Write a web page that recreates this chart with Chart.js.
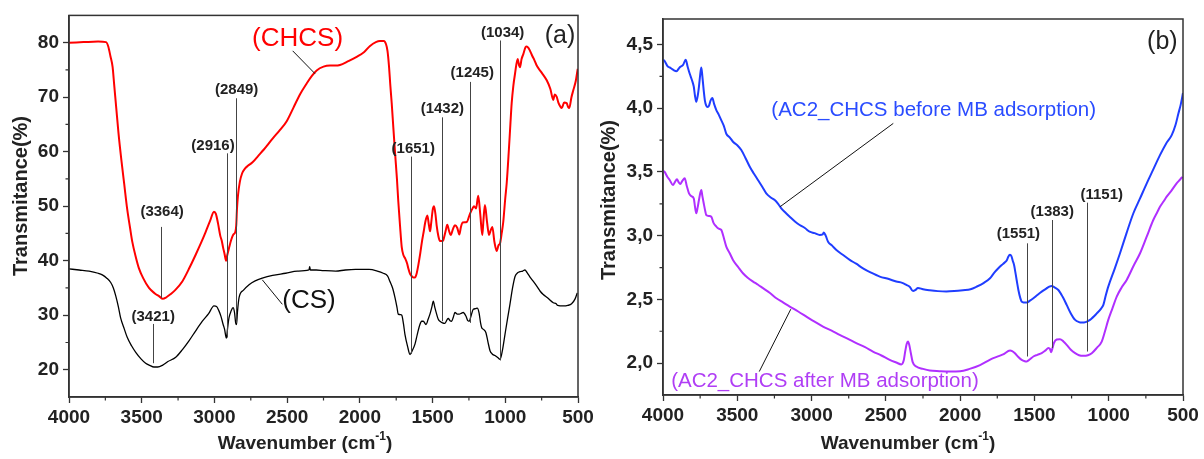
<!DOCTYPE html>
<html><head><meta charset="utf-8">
<script src="https://cdn.jsdelivr.net/npm/chart.js@4.4.1/dist/chart.umd.min.js"></script>
<style>
body{margin:0;background:#fff;width:1204px;height:459px;overflow:hidden;position:relative}
#c1{position:absolute;left:0;top:0}
#c2{position:absolute;left:600px;top:0}
</style>
</head><body>
<canvas id="c1" width="600" height="459"></canvas>
<canvas id="c2" width="604" height="459"></canvas>
<script>
// ---------- Panel (a) data ----------
const chcsWn = [4000,3900,3800,3745,3730,3715,3700,3690,3675,3660,3640,3620,3600,3580,3565,3540,3519,3490,3450,3410,3381,3355,3330,3300,3270,3221,3170,3129,3090,3060,3030,3003,2990,2975,2960,2950,2941,2930,2920,2912,2900,2885,2870,2856,2850,2845,2838,2825,2810,2790,2770,2740,2700,2660,2641,2600,2549,2503,2458,2412,2366,2330,2297,2250,2205,2170,2137,2080,2022,1970,1930,1890,1862,1835,1820,1810,1800,1790,1781,1770,1758,1745,1736,1724,1712,1700,1690,1675,1667,1655,1644,1630,1621,1610,1598,1585,1573,1560,1550,1536,1525,1517,1510,1498,1490,1480,1472,1460,1449,1435,1426,1410,1399,1387,1375,1360,1346,1330,1316,1305,1293,1265,1243,1225,1215,1201,1186,1172,1158,1150,1140,1125,1112,1100,1089,1075,1059,1047,1036,1025,1014,1000,990,975,965,956,945,933,915,905,899,888,876,860,853,840,830,815,800,784,750,715,690,670,660,647,635,620,612,595,578,568,560,545,532,515,502];
const chcsT = [80.0,80.1,80.2,80.1,79.3,77.5,75.5,72.5,68.0,63.5,58.5,54.0,49.5,46.0,43.5,40.6,38.6,36.8,35.0,34.0,33.5,33.0,33.3,33.9,34.6,36.2,38.8,41.1,43.4,45.3,47.3,49.0,48.6,46.8,44.6,43.7,42.5,41.2,40.0,41.0,42.3,43.8,44.8,45.3,46.5,49.5,52.0,54.5,56.0,56.9,57.4,58.0,59.2,60.4,61.0,62.4,64.0,65.6,68.0,70.5,72.5,73.9,74.9,75.6,75.8,75.8,75.9,76.6,77.4,78.3,79.4,80.1,80.3,80.3,79.7,78.5,75.8,72.0,68.9,64.5,59.8,55.0,51.0,46.5,42.5,41.0,40.5,39.5,38.6,37.6,37.2,36.9,36.9,37.6,39.2,41.3,43.5,45.5,47.1,48.3,46.5,45.4,46.8,49.5,50.0,48.5,46.5,44.5,43.6,43.6,43.8,45.5,46.6,45.5,44.7,45.8,46.5,46.0,44.8,46.2,47.0,47.1,48.6,49.6,50.0,49.6,51.9,48.5,44.7,47.5,50.2,47.0,44.7,45.6,46.2,43.5,41.8,42.8,43.2,45.0,47.1,51.5,54.3,60.5,65.0,68.9,72.0,74.3,77.0,75.8,75.5,77.0,77.9,79.2,79.3,79.0,78.5,77.6,76.8,75.8,74.5,73.1,71.5,69.5,70.5,70.1,69.0,68.2,68.0,69.0,68.9,68.2,68.0,70.0,71.3,73.0,75.2];

const csWn = [4000,3930,3862,3800,3771,3740,3713,3695,3679,3660,3645,3620,3599,3570,3541,3505,3473,3445,3416,3390,3358,3320,3266,3220,3175,3130,3083,3040,3003,2985,2969,2955,2941,2930,2918,2910,2900,2885,2872,2862,2854,2848,2842,2831,2800,2762,2720,2671,2600,2510,2430,2350,2345,2340,2300,2250,2166,2100,2030,1937,1880,1839,1810,1793,1775,1758,1745,1736,1720,1712,1700,1690,1672,1655,1640,1621,1605,1587,1575,1564,1545,1530,1518,1505,1495,1485,1472,1460,1449,1432,1415,1400,1392,1380,1369,1358,1346,1330,1316,1300,1289,1270,1258,1248,1235,1220,1205,1193,1180,1170,1162,1150,1133,1120,1105,1090,1071,1050,1036,1020,1002,985,968,950,933,915,899,880,865,850,830,807,780,760,739,710,670,650,640,601,570,544,520,505];
const csT = [38.5,38.3,38.1,37.7,37.4,36.8,36.0,35.0,33.6,31.5,29.5,27.5,25.9,24.4,23.2,22.0,21.2,20.8,20.5,20.5,20.8,21.5,22.3,23.7,25.3,27.1,28.9,30.3,31.7,31.6,30.8,29.8,28.4,27.4,25.8,27.5,29.5,30.8,31.4,30.5,28.6,28.3,30.5,33.2,34.6,35.6,36.3,36.8,37.3,37.7,38.1,38.3,38.9,38.3,38.3,38.2,38.1,38.3,38.4,38.4,38.1,37.7,37.2,36.2,35.0,33.2,31.5,30.2,30.1,30.0,28.4,26.5,24.3,22.8,23.5,24.7,26.5,28.3,28.9,28.9,28.3,29.3,30.2,31.5,32.6,31.5,30.2,29.2,28.9,28.6,28.5,29.2,29.4,29.0,28.9,29.6,30.5,30.2,30.2,30.4,30.5,29.8,29.0,28.9,29.9,31.1,31.2,31.3,30.4,28.6,27.7,27.4,26.8,25.2,23.5,22.9,22.6,22.2,21.9,23.5,26.5,29.3,32.0,35.0,37.1,37.8,38.0,38.1,38.3,37.8,37.0,36.2,35.2,34.4,33.8,33.2,32.3,32.1,31.8,31.7,31.8,32.1,33.0,34.1];

const xTicks = [4000,3500,3000,2500,2000,1500,1000,500];
const xMinor = [3750,3250,2750,2250,1750,1250,750];
const yTicksA = [20,30,40,50,60,70,80];
const yMinorA = [25,35,45,55,65,75];

// peak annotations (a)
const peaksA = ["(3364)","(3421)","(2916)","(2849)","(1651)","(1432)","(1245)","(1034)"];
const peakLineWnA = [3364,3421,2916,2849,1651,1432,1245,1034];
const peakLineFromA = [33.2,21.2,25.9,28.6,22.9,28.9,28.6,21.7];
const peakLineToA = [46.2,28.4,59.7,69.8,59.1,66.3,72.8,80.4];
const peakLabelWnA = [3360,3421,3010,2847,1633,1433,1227,1018];
const peakLabelTA = [48.9,29.7,61.1,71.4,60.6,67.9,74.4,81.8];

// ---------- Panel (b) data ----------
const beforeWn = [4000,3989,3970,3955,3930,3910,3888,3865,3847,3835,3820,3805,3793,3785,3776,3766,3758,3748,3742,3735,3726,3718,3709,3700,3690,3680,3668,3655,3641,3625,3608,3590,3574,3550,3529,3500,3473,3445,3416,3390,3361,3330,3305,3275,3248,3225,3204,3175,3147,3110,3080,3045,3013,2980,2945,2925,2918,2905,2889,2860,2833,2790,2743,2700,2654,2600,2541,2480,2430,2390,2362,2340,2317,2300,2284,2250,2205,2150,2093,2040,1981,1930,1889,1840,1799,1770,1743,1720,1700,1685,1676,1665,1655,1645,1637,1625,1615,1608,1595,1586,1570,1552,1530,1507,1480,1451,1420,1400,1384,1365,1339,1310,1283,1255,1226,1200,1182,1155,1126,1080,1050,1036,1020,1003,960,924,880,834,790,744,700,655,615,576,550,531,515,500];
const beforeT = [4.38,4.37,4.33,4.32,4.30,4.29,4.32,4.34,4.38,4.33,4.27,4.22,4.17,4.10,4.05,4.10,4.17,4.28,4.32,4.25,4.14,4.06,4.02,4.01,4.02,4.06,4.08,4.03,3.985,3.95,3.907,3.86,3.80,3.77,3.737,3.71,3.672,3.61,3.541,3.49,3.437,3.38,3.332,3.30,3.28,3.25,3.215,3.18,3.149,3.11,3.084,3.06,3.031,3.02,3.006,3.01,3.025,3.00,2.953,2.92,2.888,2.85,2.81,2.78,2.744,2.71,2.679,2.66,2.64,2.63,2.614,2.60,2.565,2.575,2.59,2.58,2.572,2.565,2.562,2.565,2.572,2.58,2.60,2.63,2.666,2.71,2.744,2.77,2.79,2.81,2.835,2.85,2.84,2.80,2.77,2.69,2.62,2.574,2.51,2.483,2.476,2.475,2.49,2.509,2.535,2.561,2.585,2.60,2.606,2.595,2.574,2.52,2.457,2.39,2.339,2.322,2.318,2.322,2.339,2.39,2.43,2.457,2.53,2.60,2.74,2.862,3.02,3.176,3.29,3.411,3.52,3.632,3.72,3.789,3.87,3.959,4.03,4.12];

const afterWn = [4000,3989,3970,3955,3933,3920,3906,3895,3884,3870,3854,3840,3825,3810,3793,3785,3776,3767,3758,3748,3742,3735,3726,3715,3709,3690,3675,3660,3641,3625,3608,3590,3574,3550,3529,3495,3462,3430,3394,3360,3327,3280,3237,3190,3147,3090,3035,2980,2923,2865,2811,2755,2699,2640,2587,2530,2474,2430,2396,2380,2370,2360,2351,2342,2332,2320,2295,2250,2205,2140,2070,2000,1936,1866,1801,1777,1740,1711,1664,1650,1631,1610,1586,1565,1552,1530,1507,1480,1451,1425,1406,1395,1387,1378,1368,1350,1328,1305,1283,1255,1226,1200,1171,1140,1114,1080,1047,1025,1003,975,946,915,879,830,789,745,700,675,655,630,610,580,543,520,504];
const afterT = [3.51,3.50,3.46,3.437,3.397,3.42,3.442,3.42,3.405,3.43,3.45,3.39,3.332,3.31,3.293,3.23,3.176,3.22,3.28,3.34,3.358,3.31,3.254,3.19,3.162,3.155,3.149,3.10,3.071,3.055,3.045,2.98,2.914,2.86,2.81,2.755,2.705,2.67,2.64,2.615,2.588,2.55,2.509,2.475,2.444,2.405,2.365,2.325,2.287,2.255,2.222,2.19,2.157,2.125,2.091,2.06,2.026,2.005,1.99,2.02,2.09,2.15,2.169,2.14,2.08,2.01,1.973,1.955,1.942,1.937,1.934,1.936,1.955,1.985,2.026,2.039,2.055,2.068,2.099,2.095,2.078,2.05,2.026,2.015,2.013,2.03,2.052,2.065,2.078,2.10,2.118,2.11,2.085,2.12,2.16,2.185,2.188,2.17,2.143,2.105,2.078,2.062,2.057,2.062,2.078,2.12,2.169,2.25,2.339,2.43,2.522,2.59,2.653,2.77,2.862,2.99,3.123,3.18,3.227,3.27,3.306,3.35,3.411,3.44,3.462];

const yTicksB = [2.0,2.5,3.0,3.5,4.0,4.5];
const yMinorB = [2.25,2.75,3.25,3.75,4.25];

const peaksB = ["(1551)","(1383)","(1151)"];
const peakLineWnB = [1551,1383,1146];
const peakLineFromB = [2.052,2.118,2.091];
const peakLineToB = [2.940,3.123,3.259];
const peakLabelWnB = [1608,1380,1047];
const peakLabelTB = [3.013,3.188,3.319];

// ---------- helpers ----------
const FONT = '"Liberation Sans", Arial, sans-serif';
const pts = (xs, ys) => xs.map((x, i) => ({x: x, y: ys[i]}));

const decorPlugin = {
  id: 'decor',
  afterDraw(chart) {
    const o = chart.options.plugins.decor;
    const ctx = chart.ctx, xs = chart.scales.x, ys = chart.scales.y, a = chart.chartArea;
    const X = v => xs.getPixelForValue(v), Y = v => ys.getPixelForValue(v);
    ctx.save();
    // frame
    ctx.strokeStyle = '#333'; ctx.lineWidth = 1.5;
    ctx.strokeRect(a.left, a.top, a.right - a.left, a.bottom - a.top);
    // minor ticks
    ctx.lineWidth = 1.2;
    ctx.beginPath();
    o.xMinor.forEach(v => { const p = X(v); ctx.moveTo(p, a.bottom); ctx.lineTo(p, a.bottom + 3.5); });
    o.yMinor.forEach(v => { const p = Y(v); ctx.moveTo(a.left, p); ctx.lineTo(a.left - 3.5, p); });
    ctx.stroke();
    // peak lines and labels
    ctx.strokeStyle = '#444'; ctx.lineWidth = 1;
    o.peakWn.forEach((w, i) => {
      ctx.beginPath();
      ctx.moveTo(Math.round(X(w)) + 0.5, Y(o.peakFrom[i]));
      ctx.lineTo(Math.round(X(w)) + 0.5, Y(o.peakTo[i]));
      ctx.stroke();
    });
    ctx.fillStyle = '#222';
    ctx.font = 'bold 15px ' + FONT;
    ctx.textAlign = 'center'; ctx.textBaseline = 'middle';
    o.peakText.forEach((t, i) => ctx.fillText(t, X(o.peakLabelWn[i]), Y(o.peakLabelT[i])));
    // leader lines
    ctx.strokeStyle = '#111'; ctx.lineWidth = 1;
    o.leaders.forEach(l => {
      ctx.beginPath(); ctx.moveTo(X(l[0]), Y(l[1])); ctx.lineTo(X(l[2]), Y(l[3])); ctx.stroke();
    });
    // free texts
    o.texts.forEach(t => {
      ctx.fillStyle = t.color; ctx.font = t.font;
      ctx.textAlign = 'center'; ctx.textBaseline = 'middle';
      ctx.fillText(t.text, X(t.x), Y(t.y));
    });
    // axis titles
    ctx.fillStyle = '#222';
    ctx.font = 'bold 19px ' + FONT;
    const main = 'Wavenumber (cm', sup = '-1', tail = ')';
    const wMain = ctx.measureText(main).width;
    const wTail = ctx.measureText(tail).width;
    ctx.font = 'bold 12px ' + FONT;
    const wSup = ctx.measureText(sup).width;
    const total = wMain + wSup + wTail;
    let sx = o.xTitleX - total / 2;
    ctx.textAlign = 'left'; ctx.textBaseline = 'alphabetic';
    ctx.font = 'bold 19px ' + FONT;
    ctx.fillText(main, sx, o.xTitleY);
    ctx.font = 'bold 12px ' + FONT;
    ctx.fillText(sup, sx + wMain, o.xTitleY - 9);
    ctx.font = 'bold 19px ' + FONT;
    ctx.fillText(tail, sx + wMain + wSup, o.xTitleY);
    ctx.font = 'bold 20px ' + FONT;
    ctx.translate(o.yTitleX, o.yTitleY);
    ctx.rotate(-Math.PI / 2);
    ctx.textAlign = 'center'; ctx.textBaseline = 'middle';
    ctx.fillText('Transmitance(%)', 0, 0);
    ctx.restore();
  }
};

function makeChart(id, datasets, cfg) {
  return new Chart(document.getElementById(id), {
    type: 'line',
    data: { datasets: datasets },
    plugins: [decorPlugin],
    options: {
      responsive: false, animation: false, devicePixelRatio: 1,
      layout: { padding: { left: 0, top: cfg.padTop, right: cfg.padRight, bottom: 0 } },
      elements: { point: { radius: 0 }, line: { cubicInterpolationMode: 'monotone' } },
      plugins: { legend: { display: false }, tooltip: { enabled: false }, decor: cfg.decor },
      scales: {
        x: {
          type: 'linear', reverse: true, min: 500, max: 4000,
          afterBuildTicks: s => { s.ticks = xTicks.map(v => ({ value: v })); },
          afterFit: s => { s.height = cfg.xHeight; },
          ticks: { callback: v => String(v), color: '#222', font: { family: FONT, size: 19, weight: 'bold' }, padding: 3, maxRotation: 0, autoSkip: false },
          grid: { drawOnChartArea: false, drawTicks: true, tickLength: 6, color: '#333', tickWidth: 1.3 },
          border: { display: true, color: '#333', width: 1.5 }
        },
        y: {
          type: 'linear', min: cfg.yMin, max: cfg.yMax,
          afterBuildTicks: s => { s.ticks = cfg.yTicks.map(v => ({ value: v })); },
          afterFit: s => { s.width = cfg.yWidth; },
          ticks: { callback: cfg.yFmt, color: '#222', font: { family: FONT, size: 19, weight: 'bold' }, padding: 4, autoSkip: false },
          grid: { drawOnChartArea: false, drawTicks: true, tickLength: 6, color: '#333', tickWidth: 1.3 },
          border: { display: true, color: '#333', width: 1.5 }
        }
      }
    }
  });
}

makeChart('c1', [
  { data: pts(chcsWn, chcsT), borderColor: '#ff0000', borderWidth: 2, fill: false },
  { data: pts(csWn, csT), borderColor: '#000000', borderWidth: 1.3, fill: false }
], {
  padTop: 12, padRight: 22, xHeight: 62, yWidth: 69, yMin: 15, yMax: 85, yTicks: yTicksA,
  yFmt: v => String(v),
  decor: {
    xMinor: xMinor, yMinor: yMinorA,
    peakWn: peakLineWnA, peakFrom: peakLineFromA, peakTo: peakLineToA,
    peakText: peaksA, peakLabelWn: peakLabelWnA, peakLabelT: peakLabelTA,
    leaders: [[2462, 78.5, 2308, 74.3], [2671, 36.5, 2533, 32.0]],
    texts: [
      { text: '(CHCS)', x: 2428, y: 80.7, color: '#ff0000', font: '26px ' + FONT },
      { text: '(CS)', x: 2350, y: 32.6, color: '#111', font: '26px ' + FONT },
      { text: '(a)', x: 624, y: 81.2, color: '#222', font: '25px ' + FONT }
    ],
    xTitleX: 305, xTitleY: 449, yTitleX: 21, yTitleY: 196
  }
});

makeChart('c2', [
  { data: pts(beforeWn, beforeT), borderColor: '#1f3dff', borderWidth: 2, fill: false },
  { data: pts(afterWn, afterT), borderColor: '#b02fff', borderWidth: 2, fill: false }
], {
  padTop: 19, padRight: 21, xHeight: 64, yWidth: 63, yMin: 1.75, yMax: 4.7, yTicks: yTicksB,
  yFmt: v => v.toFixed(1).replace('.', ','),
  decor: {
    xMinor: xMinor, yMinor: yMinorB,
    peakWn: peakLineWnB, peakFrom: peakLineFromB, peakTo: peakLineToB,
    peakText: peaksB, peakLabelWn: peakLabelWnB, peakLabelT: peakLabelTB,
    leaders: [[2450, 3.881, 3212, 3.227], [3352, 1.934, 3140, 2.423]],
    texts: [
      { text: '(AC2_CHCS before MB adsorption)', x: 2178, y: 3.985, color: '#2a4cff', font: '20.5px ' + FONT },
      { text: '(AC2_CHCS after MB adsorption)', x: 2910, y: 1.856, color: '#b03ef5', font: '20.5px ' + FONT },
      { text: '(b)', x: 639, y: 4.518, color: '#222', font: '25px ' + FONT }
    ],
    xTitleX: 308, xTitleY: 449, yTitleX: 9, yTitleY: 200
  }
});
</script>
</body></html>
